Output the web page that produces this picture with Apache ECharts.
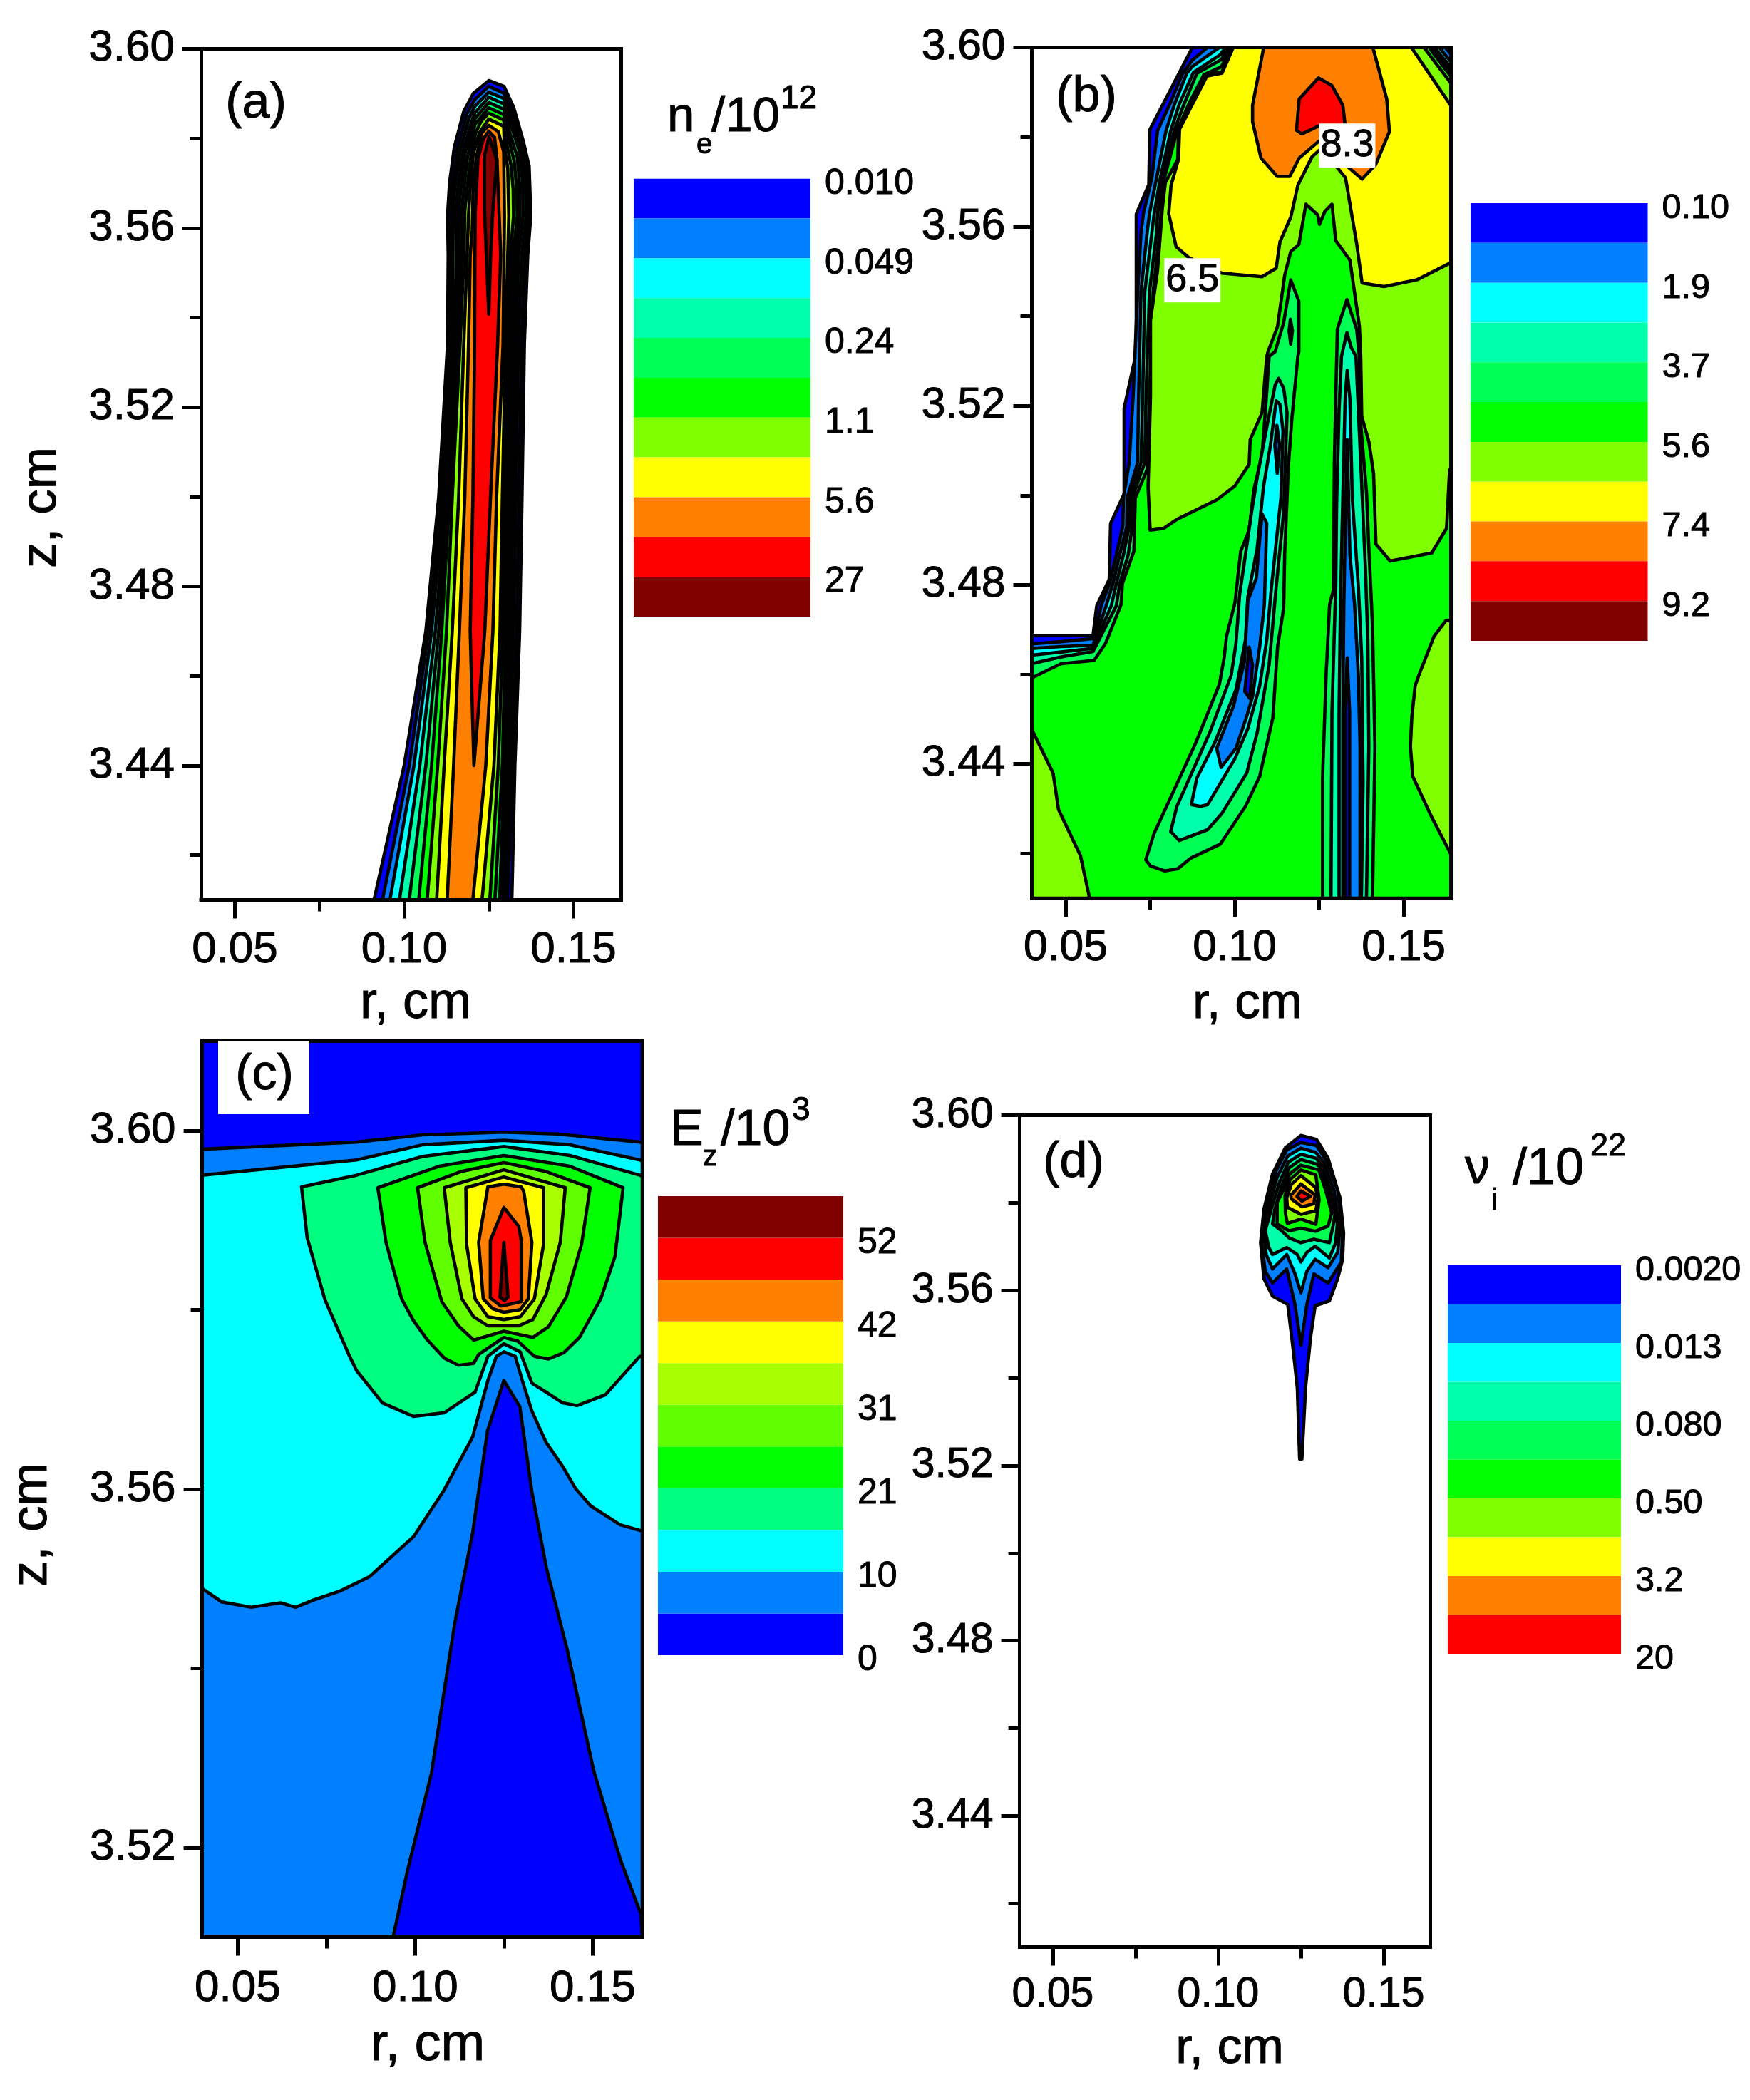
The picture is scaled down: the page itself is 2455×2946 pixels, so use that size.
<!DOCTYPE html>
<html>
<head>
<meta charset="utf-8">
<title>Contour panels</title>
<script src="https://cdn.jsdelivr.net/npm/echarts@6/dist/echarts.min.js"></script>
<style>
  html, body { margin: 0; padding: 0; background: #fff; }
  #chart { width: 2455px; height: 2946px; }
</style>
</head>
<body>
<div id="chart"></div>
<script>
// colour scales, one per legend, lowest band first
const jetColors = ['#0000ff', '#0080ff', '#00ffff', '#00ffaa', '#00ff55', '#00ff00', '#80ff00', '#ffff00', '#ff8000', '#ff0000', '#800000'];
const ezColors = ['#0000ff', '#0080ff', '#00ffff', '#00ff80', '#00ff00', '#60ff00', '#a8ff00', '#ffff00', '#ff8000', '#ff0000', '#800000'];
const nuColors = jetColors.slice(0, 10);

// legend tick labels
const neTicks = ['0.010', '0.049', '0.24', '1.1', '5.6', '27'];
const phiTicks = ['0.10', '1.9', '3.7', '5.6', '7.4', '9.2'];
const ezTicks = ['0', '10', '21', '31', '42', '52'];
const nuTicks = ['0.0020', '0.013', '0.080', '0.50', '3.2', '20'];

// axis ticks
const rMajor = [0.05, 0.10, 0.15];
const rMinor = [0.075, 0.125];
const zMajorWide = [3.60, 3.56, 3.52, 3.48, 3.44];
const zMinorWide = [3.58, 3.54, 3.50, 3.46, 3.42];
const zMajorNarrow = [3.60, 3.56, 3.52];
const zMinorNarrow = [3.58, 3.54];

// (a) contours as [r, z], painted outside to inside
const neBands = [0, 1, 2, 3, 4, 5, 6, 7, 8, 9, 10];
const neContours = [
  [[.0911,3.41],[.1000,3.44],[.1064,3.47],[.1102,3.50],[.1128,3.534],[.1130,3.554],[.1128,3.5627],[.1134,3.5701],[.1148,3.578],[.1176,3.586],[.1204,3.590],[.1250,3.5929],[.1295,3.5916],[.1323,3.587],[.1351,3.5796],[.1369,3.5738],[.1374,3.5627],[.1365,3.554],[.1355,3.534],[.1348,3.50],[.1341,3.47],[.1327,3.44],[.1318,3.41]],
  [[.0936,3.41],[.1015,3.44],[.1072,3.47],[.1111,3.50],[.1135,3.534],[.1137,3.554],[.1138,3.5648],[.1141,3.5685],[.1157,3.5775],[.1185,3.5855],[.1209,3.5887],[.1250,3.5916],[.1294,3.5901],[.1327,3.5844],[.1355,3.5781],[.1365,3.5712],[.1367,3.5627],[.1356,3.554],[.1346,3.534],[.1339,3.50],[.1332,3.47],[.1319,3.44],[.1306,3.41]],
  [[.0958,3.41],[.1029,3.44],[.1081,3.47],[.1118,3.50],[.1142,3.534],[.1144,3.554],[.1145,3.5648],[.1149,3.5685],[.1165,3.577],[.1191,3.5844],[.1209,3.5872],[.1250,3.5903],[.1294,3.5889],[.1323,3.5833],[.1348,3.5775],[.1358,3.5706],[.1360,3.5627],[.1347,3.554],[.1337,3.534],[.1330,3.50],[.1323,3.47],[.1311,3.44],[.1298,3.41]],
  [[.0986,3.41],[.1046,3.44],[.1092,3.47],[.1124,3.50],[.1149,3.534],[.1154,3.554],[.1154,3.5648],[.1158,3.5685],[.1174,3.577],[.1197,3.5833],[.1209,3.5857],[.1250,3.5892],[.1294,3.5877],[.1318,3.5823],[.1341,3.577],[.1350,3.5701],[.1351,3.5627],[.1338,3.554],[.1329,3.534],[.1322,3.50],[.1315,3.47],[.1303,3.44],[.1290,3.41]],
  [[.1015,3.41],[.1064,3.44],[.1102,3.47],[.1129,3.50],[.1156,3.534],[.1160,3.554],[.1162,3.5648],[.1167,3.5685],[.1179,3.5765],[.1209,3.5844],[.1250,3.5880],[.1294,3.5865],[.1312,3.5812],[.1334,3.5759],[.1341,3.5696],[.1342,3.5627],[.1330,3.554],[.1321,3.534],[.1314,3.50],[.1307,3.47],[.1296,3.44],[.1282,3.41]],
  [[.1043,3.41],[.1081,3.44],[.1111,3.47],[.1134,3.50],[.1162,3.534],[.1169,3.554],[.1170,3.5637],[.1176,3.5685],[.1186,3.5754],[.1209,3.5831],[.1250,3.5868],[.1294,3.5853],[.1308,3.5802],[.1325,3.5749],[.1332,3.569],[.1334,3.5627],[.1322,3.554],[.1313,3.534],[.1306,3.50],[.1299,3.47],[.1290,3.44],[.1268,3.41]],
  [[.1068,3.41],[.1099,3.44],[.1125,3.47],[.1142,3.50],[.1165,3.534],[.1177,3.554],[.1179,3.5637],[.1186,3.569],[.1196,3.5754],[.1211,3.5812],[.1228,3.5839],[.1250,3.5856],[.1294,3.5841],[.1302,3.5791],[.1316,3.5738],[.1322,3.5685],[.1323,3.5627],[.1314,3.554],[.1306,3.534],[.1298,3.50],[.1291,3.47],[.1278,3.44],[.1253,3.41]],
  [[.1096,3.41],[.1118,3.44],[.1142,3.47],[.1161,3.50],[.1176,3.534],[.1186,3.554],[.1190,3.5627],[.1195,3.569],[.1204,3.5765],[.1222,3.5812],[.1250,3.5843],[.1294,3.5827],[.1296,3.578],[.1306,3.5733],[.1309,3.5627],[.1306,3.554],[.1299,3.534],[.1290,3.50],[.1283,3.47],[.1265,3.44],[.1230,3.41]],
  [[.1127,3.41],[.1146,3.44],[.1163,3.47],[.1179,3.50],[.1190,3.534],[.1195,3.554],[.1201,3.5595],[.1204,3.5701],[.1213,3.5757],[.1229,3.5812],[.1250,3.5829],[.1278,3.5815],[.1294,3.577],[.1296,3.5627],[.1295,3.554],[.1292,3.534],[.1273,3.50],[.1262,3.47],[.1241,3.44],[.1203,3.41]],
  [[.1206,3.44],[.1195,3.47],[.1203,3.50],[.1208,3.534],[.1209,3.554],[.1210,3.5637],[.1218,3.5754],[.1234,3.5799],[.1250,3.5816],[.1267,3.5802],[.1274,3.5754],[.1285,3.554],[.1276,3.534],[.1255,3.50],[.1238,3.47]],
  [[.1251,3.5804],[.1237,3.5762],[.1237,3.5643],[.1243,3.5531],[.1250,3.5407],[.1255,3.5531],[.1262,3.5643],[.1274,3.5751]]
];

// (b) main levels first, then patches, then the two troughs
const phiBands = [0, 1, 2, 3, 4, 5, 6, 6, 6, 7, 8, 9, 4, 3, 2, 1, 0, 1, 3, 4, 3, 2, 1, 0];
const phiContours = [
  [[.04,3.41],[.04,3.4687],[.0581,3.4687],[.0592,3.4753],[.0629,3.4812],[.0633,3.4937],[.0673,3.5003],[.0673,3.5194],[.0709,3.5319],[.0709,3.5628],[.0746,3.5694],[.0749,3.5816],[.0875,3.60],[.164,3.60],[.164,3.41]],
  [[.04,3.41],[.04,3.4668],[.0487,3.4673],[.0585,3.4680],[.0605,3.4753],[.0630,3.4803],[.0650,3.4867],[.0669,3.4930],[.0671,3.4994],[.0688,3.5073],[.0700,3.5225],[.0713,3.5454],[.0723,3.5586],[.0730,3.5629],[.0755,3.5708],[.0772,3.5814],[.0808,3.5873],[.0846,3.5942],[.0874,3.5971],[.0920,3.60],[.1623,3.60],[.164,3.5985],[.164,3.41]],
  [[.04,3.41],[.04,3.4658],[.0487,3.4662],[.0581,3.4665],[.0620,3.4753],[.0640,3.4803],[.0660,3.4867],[.0681,3.4930],[.0682,3.4994],[.0713,3.5073],[.0716,3.5225],[.0723,3.5454],[.0741,3.5586],[.0748,3.5629],[.0769,3.5708],[.0797,3.5814],[.0822,3.5873],[.0858,3.5942],[.0874,3.5957],[.0955,3.60],[.1605,3.60],[.164,3.5968],[.164,3.41]],
  [[.04,3.41],[.04,3.4643],[.0487,3.4650],[.0581,3.4658],[.0635,3.4753],[.0650,3.4803],[.0671,3.4867],[.0688,3.4930],[.0690,3.4994],[.0723,3.5073],[.0728,3.5225],[.0734,3.5454],[.0755,3.5586],[.0762,3.5629],[.0780,3.5708],[.0811,3.5814],[.0836,3.5873],[.0878,3.5944],[.0958,3.5984],[.0973,3.60],[.1591,3.60],[.164,3.5955],[.164,3.41]],
  [[.04,3.41],[.04,3.4624],[.0487,3.4639],[.0581,3.4651],[.0650,3.4753],[.0660,3.4803],[.0685,3.4867],[.0697,3.4930],[.0697,3.4994],[.0734,3.5073],[.0738,3.5225],[.0748,3.5454],[.0769,3.5586],[.0772,3.5629],[.0787,3.5708],[.0821,3.5814],[.0850,3.5873],[.0888,3.5942],[.0961,3.5973],[.0980,3.60],[.1583,3.60],[.164,3.5945],[.164,3.41]],
  [[.04,3.41],[.04,3.4592],[.0487,3.4624],[.0584,3.4631],[.0618,3.4669],[.0664,3.4756],[.0668,3.4803],[.0702,3.4875],[.0706,3.4994],[.0741,3.5057],[.0748,3.5215],[.0759,3.5454],[.0778,3.5586],[.0783,3.5640],[.0792,3.5708],[.0830,3.5814],[.0864,3.5873],[.0909,3.5939],[.0961,3.5957],[.0987,3.60],[.1575,3.60],[.164,3.5935],[.164,3.41]],
  [[.0750,3.4922],[.0744,3.5017],[.0751,3.5221],[.0751,3.5390],[.0772,3.5502],[.0786,3.5640],[.0795,3.5698],[.0832,3.5751],[.0834,3.5820],[.0913,3.5940],[.0962,3.5945],[.0992,3.60],[.1560,3.60],[.164,3.5920],[.164,3.5057],[.1636,3.5057],[.1627,3.4926],[.1583,3.4871],[.1460,3.4853],[.1418,3.4891],[.1411,3.5049],[.1397,3.5120],[.1376,3.5176],[.1373,3.5310],[.1369,3.5378],[.1341,3.5525],[.1299,3.5569],[.1288,3.565],[.1267,3.5634],[.1251,3.5605],[.1246,3.5626],[.1211,3.5650],[.1190,3.5560],[.1166,3.5544],[.1148,3.5491],[.1127,3.5377],[.1099,3.5321],[.1095,3.531],[.1081,3.5184],[.1046,3.5124],[.1043,3.5069],[.1001,3.5021],[.0948,3.4990],[.0829,3.4946],[.0790,3.4926]],
  [[.04,3.4477],[.0463,3.4379],[.0479,3.4298],[.0544,3.4195],[.0571,3.41],[.04,3.41]],
  [[.164,3.4720],[.1625,3.4720],[.1590,3.4685],[.1545,3.4598],[.1534,3.4574],[.1524,3.4503],[.1520,3.4439],[.1527,3.4372],[.1583,3.4281],[.164,3.4198]],
  [[.0996,3.60],[.0963,3.5943],[.0918,3.5936],[.0837,3.5817],[.0834,3.5751],[.0812,3.5692],[.0805,3.5629],[.0827,3.5555],[.0864,3.5531],[.0962,3.5496],[.1081,3.5488],[.1123,3.5507],[.1134,3.5566],[.1166,3.5621],[.1187,3.5692],[.1229,3.5756],[.1257,3.5775],[.1328,3.5709],[.1361,3.5562],[.1377,3.5474],[.1442,3.5466],[.1539,3.5481],[.1636,3.5518],[.164,3.5518],[.164,3.5870],[.1523,3.60]],
  [[.1086,3.60],[.1053,3.5871],[.1053,3.5834],[.1078,3.5753],[.1126,3.5712],[.1163,3.5712],[.1191,3.5753],[.1248,3.5790],[.1304,3.5812],[.1328,3.5738],[.1377,3.5706],[.1417,3.5738],[.1458,3.5812],[.1450,3.5885],[.1409,3.60]],
  [[.1191,3.5885],[.1248,3.5932],[.1288,3.5915],[.1320,3.5871],[.1328,3.5819],[.1256,3.5827],[.1199,3.5807],[.1183,3.5815]],
  [[.0737,3.4186],[.0762,3.4245],[.0885,3.4447],[.0955,3.4578],[.0969,3.4637],[.0976,3.4685],[.1001,3.4760],[.1018,3.4875],[.1043,3.4922],[.1057,3.5013],[.1081,3.5089],[.1092,3.5199],[.1102,3.5310],[.1120,3.5321],[.1145,3.5385],[.1166,3.5481],[.1190,3.5433],[.1190,3.5321],[.1187,3.5310],[.1169,3.5168],[.1159,3.5065],[.1148,3.4867],[.1145,3.4748],[.1127,3.4661],[.1113,3.4503],[.1074,3.4372],[.1032,3.4305],[.0958,3.4221],[.0871,3.4190],[.0832,3.4166],[.0794,3.4161],[.0751,3.4172]],
  [[.0811,3.4249],[.0829,3.4305],[.0927,3.4471],[.0990,3.4598],[.1004,3.4669],[.1015,3.4780],[.1032,3.4867],[.1050,3.4962],[.1067,3.5041],[.1095,3.5152],[.1120,3.5247],[.1130,3.5261],[.1145,3.5239],[.1155,3.5184],[.1145,3.4962],[.1123,3.4796],[.1102,3.4621],[.1067,3.4471],[.1036,3.4380],[.0962,3.4289],[.0920,3.4253],[.0836,3.4229]],
  [[.0872,3.4309],[.0888,3.4368],[.0941,3.4447],[.1004,3.4566],[.1032,3.4677],[.1039,3.4772],[.1067,3.4883],[.1085,3.5017],[.1106,3.5112],[.1123,3.5211],[.1134,3.5203],[.1143,3.5144],[.1137,3.4994],[.1109,3.4796],[.1095,3.4677],[.1074,3.4574],[.1039,3.4479],[.1001,3.4412],[.0920,3.4309],[.0899,3.4305]],
  [[.0947,3.4435],[.0997,3.4530],[.1029,3.4629],[.1039,3.4764],[.1064,3.4815],[.1071,3.4875],[.1081,3.4958],[.1095,3.4938],[.1088,3.4756],[.1074,3.4661],[.1053,3.4550],[.1036,3.4507],[.1004,3.4435],[.0960,3.4392]],
  [[.1043,3.4661],[.1053,3.4621],[.1045,3.4546],[.1030,3.4562]],
  [[.1125,3.5156],[.1133,3.5112],[.1126,3.5049],[.1119,3.5112]],
  [[.1165,3.5393],[.1171,3.5367],[.1166,3.5337],[.1161,3.5367]],
  [[.1260,3.41],[.1260,3.4368],[.1271,3.4606],[.1281,3.4756],[.1292,3.4788],[.1295,3.5073],[.1302,3.5310],[.1304,3.5371],[.1332,3.5437],[.1361,3.5371],[.1369,3.5310],[.1371,3.5176],[.1390,3.5009],[.1397,3.4883],[.1408,3.4708],[.1415,3.4439],[.1408,3.41]],
  [[.1285,3.41],[.1288,3.4518],[.1299,3.4796],[.1302,3.4994],[.1309,3.5192],[.1316,3.5310],[.1332,3.5363],[.1345,3.5330],[.1359,3.5310],[.1373,3.5073],[.1387,3.4835],[.1394,3.4676],[.1397,3.4439],[.1390,3.41]],
  [[.1309,3.41],[.1309,3.4518],[.1313,3.4756],[.1320,3.4994],[.1327,3.5215],[.1333,3.5279],[.1341,3.5215],[.1348,3.4994],[.1366,3.4796],[.1376,3.4637],[.1380,3.4360],[.1375,3.41]],
  [[.1320,3.41],[.1320,3.4518],[.1323,3.4756],[.1327,3.4914],[.1333,3.5124],[.1341,3.4867],[.1355,3.4756],[.1366,3.4598],[.1371,3.4439],[.1371,3.41]],
  [[.1327,3.41],[.1327,3.4518],[.1333,3.4637],[.1340,3.4518],[.1340,3.41]]
];
// contour value labels of (b)
const phiValueLabels = [[.0875, 3.548, '6.5'], [.1333, 3.5781, '8.3']];

// (c)
const ezBands = [0, 1, 2, 3, 4, 5, 6, 7, 8, 9, 10, 0];
const ezContours = [
  [[.04,3.51],[.04,3.61],[.164,3.61],[.164,3.51]],
  [[.04,3.51],[.04,3.5979],[.0835,3.5987],[.1022,3.5995],[.125,3.5998],[.14,3.5996],[.1633,3.5987],[.164,3.5986],[.164,3.51]],
  [[.04,3.5950],[.0835,3.5967],[.1022,3.5984],[.125,3.5989],[.1436,3.5984],[.1633,3.5967],[.164,3.5966],[.164,3.5553],[.1578,3.5560],[.1495,3.5581],[.1453,3.5600],[.1416,3.5625],[.1369,3.5652],[.1329,3.5687],[.1302,3.5721],[.1282,3.5748],[.1250,3.5753],[.1229,3.5748],[.1205,3.5721],[.1162,3.5658],[.1079,3.5597],[.0996,3.5547],[.0871,3.5502],[.0788,3.5486],[.0713,3.5476],[.0663,3.5468],[.0621,3.5473],[.0538,3.5468],[.0455,3.5474],[.04,3.5489]],
  [[.0680,3.5937],[.0835,3.5950],[.1022,3.5971],[.125,3.5982],[.1436,3.5972],[.1633,3.5950],[.164,3.5949],[.164,3.5748],[.1633,3.5748],[.1536,3.5705],[.1456,3.5693],[.1416,3.5696],[.1369,3.5708],[.1329,3.5718],[.1296,3.5753],[.1250,3.5762],[.1205,3.5748],[.1169,3.5708],[.1082,3.5685],[.0995,3.5681],[.0908,3.5696],[.0835,3.5732],[.0813,3.5750],[.0746,3.5811],[.0696,3.5880]],
  [[.0895,3.5936],[.1068,3.5960],[.125,3.5972],[.1436,3.5960],[.1586,3.5936],[.1563,3.5859],[.1523,3.5812],[.1463,3.5769],[.1419,3.5752],[.1376,3.5745],[.1336,3.5748],[.1289,3.5765],[.1250,3.5769],[.1179,3.5750],[.1165,3.5740],[.1122,3.5738],[.1082,3.5746],[.1035,3.5766],[.0995,3.5788],[.0962,3.5812],[.0918,3.5875]],
  [[.1007,3.5936],[.1129,3.5954],[.125,3.5964],[.1369,3.5954],[.1493,3.5936],[.1469,3.5873],[.1426,3.5814],[.1376,3.5781],[.1332,3.5769],[.125,3.5776],[.1165,3.5766],[.1122,3.5782],[.1075,3.5809],[.1028,3.5875]],
  [[.1082,3.5936],[.125,3.5956],[.1423,3.5936],[.1409,3.5875],[.1369,3.5817],[.1332,3.5789],[.1292,3.5782],[.1205,3.5782],[.1165,3.5792],[.1132,3.5812],[.1099,3.5875]],
  [[.1143,3.5936],[.125,3.5948],[.1362,3.5936],[.1362,3.5873],[.1336,3.5812],[.1296,3.5792],[.125,3.5789],[.1205,3.5792],[.1169,3.5812],[.1145,3.5873]],
  [[.1205,3.5937],[.125,3.5940],[.1299,3.5937],[.1306,3.5932],[.1329,3.5875],[.1319,3.5812],[.1296,3.5800],[.125,3.5797],[.1219,3.5801],[.1192,3.5812],[.1179,3.5875]],
  [[.125,3.5914],[.1292,3.5893],[.1299,3.5877],[.1299,3.5809],[.1242,3.5804],[.1212,3.5813],[.1212,3.5877]],
  [[.125,3.5875],[.1262,3.5814],[.1252,3.5810],[.1239,3.5814]],
  [[.0938,3.51],[.0979,3.5175],[.1046,3.5283],[.1112,3.5451],[.1162,3.5551],[.1204,3.5665],[.125,3.5721],[.1295,3.5692],[.1329,3.5597],[.1370,3.5512],[.1429,3.5420],[.1503,3.5286],[.1578,3.5187],[.1636,3.5126],[.164,3.51]]
];

// (d)
const nuBands = [0, 1, 2, 3, 4, 5, 6, 7, 8, 9];
const nuContours = [
  [[.1250,3.5954],[.1297,3.5945],[.1332,3.5902],[.1368,3.5812],[.1379,3.5731],[.1376,3.5671],[.1361,3.5627],[.1336,3.5576],[.1293,3.5565],[.1279,3.5492],[.1264,3.5378],[.1253,3.5215],[.1246,3.5215],[.1239,3.5378],[.1225,3.5475],[.1210,3.5568],[.1164,3.5587],[.1138,3.5627],[.1128,3.5709],[.1138,3.5785],[.1164,3.5866],[.1203,3.5926]],
  [[.125,3.5938],[.1297,3.5931],[.1325,3.5899],[.1361,3.5828],[.1376,3.5731],[.1372,3.5665],[.1332,3.5617],[.1289,3.5638],[.1268,3.5568],[.125,3.5475],[.1232,3.5568],[.1207,3.5649],[.1164,3.5617],[.1142,3.5644],[.1131,3.5709],[.1145,3.5790],[.1174,3.5872],[.1207,3.5921]],
  [[.125,3.5925],[.1295,3.5915],[.1318,3.5893],[.1350,3.5828],[.1367,3.5736],[.1361,3.5687],[.1332,3.5652],[.1293,3.5671],[.1268,3.5644],[.125,3.5595],[.1232,3.5638],[.1207,3.5682],[.1164,3.5649],[.1145,3.5682],[.1137,3.5736],[.1153,3.5790],[.1178,3.5858],[.1210,3.5907]],
  [[.125,3.5911],[.1295,3.5902],[.1311,3.5888],[.1340,3.5828],[.1360,3.5752],[.1355,3.5709],[.1336,3.5674],[.1293,3.5701],[.1268,3.5687],[.125,3.5665],[.1239,3.5682],[.1207,3.5698],[.1164,3.5682],[.1153,3.5698],[.1142,3.5736],[.1160,3.5785],[.1185,3.5847],[.1212,3.5893]],
  [[.125,3.5899],[.1295,3.5889],[.1307,3.5883],[.1332,3.5828],[.1353,3.5774],[.1347,3.5747],[.1336,3.5709],[.1289,3.5717],[.125,3.5709],[.1214,3.5720],[.1192,3.5736],[.1164,3.5752],[.1171,3.5785],[.1192,3.5839],[.1214,3.5880]],
  [[.125,3.5886],[.1295,3.5877],[.1304,3.5875],[.1325,3.5828],[.1343,3.5777],[.1332,3.5747],[.1293,3.5735],[.125,3.5742],[.1214,3.5736],[.1178,3.5752],[.1178,3.5801],[.1196,3.5828],[.1216,3.5866]],
  [[.125,3.5875],[.1295,3.5864],[.1305,3.5807],[.1295,3.5751],[.125,3.5763],[.1209,3.5753],[.1203,3.5777],[.1202,3.5817],[.1217,3.5853]],
  [[.125,3.5862],[.1293,3.5836],[.1302,3.5812],[.1295,3.5782],[.125,3.5774],[.1209,3.5790],[.1207,3.5812],[.1221,3.5842]],
  [[.125,3.5843],[.1293,3.5818],[.1289,3.5798],[.1253,3.5791],[.1221,3.5809],[.1219,3.5817]],
  [[.125,3.5827],[.1279,3.5815],[.1253,3.5804],[.1238,3.5815]]
];

const FONT = '"Liberation Sans", Arial, sans-serif';
const TEXT_WEIGHT = { color: '#000', fontFamily: FONT, textBorderColor: '#000', textBorderWidth: 1 };
const grids = [], xAxes = [], yAxes = [], series = [];

function hiddenAxis(gridIndex, min, max) {
  return { type: 'value', gridIndex, min, max, show: false };
}

// one frame: tick axes at bottom and left, plain lines at top and right
function addPlot(box, rRange, zRange, zMajor, zMinor, fontSize, rLabelMargin) {
  const gridIndex = grids.length;
  grids.push({ ...box, containLabel: false });
  const line = { show: true, onZero: false, lineStyle: { color: '#000', width: 5, cap: 'square' } };
  const off = { show: false };
  const tickStyle = { color: '#000', width: 5 };
  const base = { type: 'value', gridIndex, splitLine: off, z: 5 };
  const xBase = { ...base, min: rRange[0], max: rRange[1] };
  const yBase = { ...base, min: zRange[0], max: zRange[1] };
  const xIndex = xAxes.length, yIndex = yAxes.length;
  xAxes.push({
    ...xBase, position: 'bottom', axisLine: line,
    axisTick: { show: true, length: 26, lineStyle: tickStyle, customValues: rMajor },
    axisLabel: { show: true, customValues: rMajor, margin: rLabelMargin, formatter: v => v.toFixed(2),
      ...TEXT_WEIGHT, fontSize }
  }, {
    ...xBase, position: 'bottom', axisLine: off,
    axisTick: { show: true, length: 16, lineStyle: tickStyle, customValues: rMinor }, axisLabel: off
  }, {
    ...xBase, position: 'top', axisLine: line, axisTick: off, axisLabel: off
  });
  yAxes.push({
    ...yBase, position: 'left', axisLine: line,
    axisTick: { show: true, length: 26, lineStyle: tickStyle, customValues: zMajor },
    axisLabel: { show: true, customValues: zMajor, margin: 37, formatter: v => v.toFixed(2),
      ...TEXT_WEIGHT, fontSize }
  }, {
    ...yBase, position: 'left', axisLine: off,
    axisTick: { show: true, length: 16, lineStyle: tickStyle, customValues: zMinor }, axisLabel: off
  }, {
    ...yBase, position: 'right', axisLine: line, axisTick: off, axisLabel: off
  });
  return { xAxisIndex: xIndex, yAxisIndex: yIndex };
}

function addContours(axes, contours, bands, colors, lineWidth) {
  series.push({
    type: 'custom', ...axes, clip: true, silent: true, z: 2,
    data: contours.map((c, i) => [c[0][0], c[0][1], i]),
    renderItem: (params, api) => {
      const i = api.value(2);
      return {
        type: 'polygon',
        shape: { points: contours[i].map(p => api.coord(p)) },
        style: { fill: colors[bands[i]], stroke: '#000', lineWidth, lineJoin: 'round' }
      };
    }
  });
}

// colour bar: bands stacked on a 0..n scale, labels on every second boundary
function addColorBar(box, colors, ticks, topDown, fontSize) {
  const gridIndex = grids.length;
  grids.push(box);
  const xAxisIndex = xAxes.length, yAxisIndex = yAxes.length;
  xAxes.push(hiddenAxis(gridIndex, 0, 1));
  yAxes.push({
    type: 'value', gridIndex, min: 0, max: colors.length, inverse: topDown, position: 'right',
    splitLine: { show: false }, axisLine: { show: false, onZero: false }, axisTick: { show: false },
    axisLabel: { show: true, customValues: ticks.map((t, i) => i * 2), margin: 20,
      formatter: v => `{t|${ticks[v / 2]}}`,
      rich: { t: { ...TEXT_WEIGHT, fontSize, padding: [15, 0, 0, 0] } } }
  });
  series.push({
    type: 'custom', xAxisIndex, yAxisIndex, silent: true,
    data: colors.map((c, i) => [0, i]),
    renderItem: (params, api) => {
      const i = api.value(1);
      const a = api.coord([0, i]), b = api.coord([1, i + 1]);
      return {
        type: 'rect',
        shape: { x: a[0], y: Math.min(a[1], b[1]), width: b[0] - a[0], height: Math.abs(b[1] - a[1]) },
        style: { fill: colors[i] }
      };
    }
  });
}

const rRange = [0.04, 0.164];

addContours(addPlot({ left: 282, top: 68.4, width: 589, height: 1194 }, rRange, [3.41, 3.60], zMajorWide, zMinorWide, 62, 40),
  neContours, neBands, jetColors, 4.6);
const phiAxes = addPlot({ left: 1447.5, top: 66.6, width: 588, height: 1193.5 }, rRange, [3.41, 3.60], zMajorWide, zMinorWide, 60.5, 40);
addContours(phiAxes, phiContours, phiBands, jetColors, 4.6);
series.push({
  type: 'scatter', ...phiAxes, symbolSize: 0, silent: true, z: 3,
  itemStyle: { opacity: 1 },
  data: phiValueLabels,
  label: { show: true, position: 'inside', formatter: p => p.value[2], ...TEXT_WEIGHT,
    fontSize: 54, backgroundColor: '#fff', padding: [5, 2, 3, 2] }
});
addContours(addPlot({ left: 283.6, top: 1460, width: 617.4, height: 1257.6 }, rRange, [3.51, 3.61], zMajorNarrow, zMinorNarrow, 62, 41),
  ezContours, ezBands, ezColors, 4.6);
addContours(addPlot({ left: 1430.6, top: 1564.6, width: 575.4, height: 1167 }, rRange, [3.41, 3.60], zMajorWide, zMinorWide, 59, 38),
  nuContours, nuBands, jetColors, 4.6);

addColorBar({ left: 889, top: 250.7, width: 248, height: 614.3 }, jetColors, neTicks, true, 50);
addColorBar({ left: 2063, top: 285, width: 248.5, height: 614 }, jetColors, phiTicks, true, 48.6);
addColorBar({ left: 923, top: 1678, width: 260, height: 644 }, ezColors, ezTicks, false, 50);
addColorBar({ left: 2031, top: 1775, width: 243, height: 545 }, nuColors, nuTicks, true, 48.5);

function txt(text, x, y, size, extra) {
  return {
    type: 'text', x, y, z: 100, silent: true, ...extra,
    style: { text, fontFamily: FONT, fontSize: size, fill: '#000', stroke: '#000', lineWidth: 1,
      align: 'left', verticalAlign: 'middle', ...(extra && extra.style) }
  };
}
function centered(text, x, y, size, rotation) {
  return txt(text, x, y, size, { rotation: rotation || 0, style: { align: 'center' } });
}

const graphicItems = [
  { type: 'rect', z: 99, silent: true, shape: { x: 306, y: 1460, width: 128, height: 103 }, style: { fill: '#fff' } },
  centered('(a)', 359, 146, 70),
  centered('(b)', 1524, 137, 70),
  centered('(c)', 371, 1509, 70),
  centered('(d)', 1506, 1632, 70),
  centered('r, cm', 583, 1408, 72),
  centered('r, cm', 1750, 1408, 71),
  centered('r, cm', 600, 2870, 74),
  centered('r, cm', 1725, 2875, 70),
  centered('z, cm', 58, 712, 71, Math.PI / 2),
  centered('z, cm', 45, 2139, 73, Math.PI / 2),
  txt('n', 936, 165, 69), txt('e', 977, 204, 40), txt('/10', 998, 165, 69), txt('12', 1095, 139, 46),
  txt('E', 940, 1587, 70), txt('z', 986, 1624, 40), txt('/10', 1011, 1587, 70), txt('3', 1111, 1558, 46),
  txt('ν', 2055, 1641, 70), txt('i', 2092, 1685, 42), txt('/10', 2122, 1641, 72), txt('22', 2231, 1609, 45)
];

const chart = echarts.init(document.getElementById('chart'));
chart.setOption({
  backgroundColor: '#fff',
  animation: false,
  grid: grids,
  xAxis: xAxes,
  yAxis: yAxes,
  series,
  graphic: graphicItems
});
</script>
</body>
</html>
